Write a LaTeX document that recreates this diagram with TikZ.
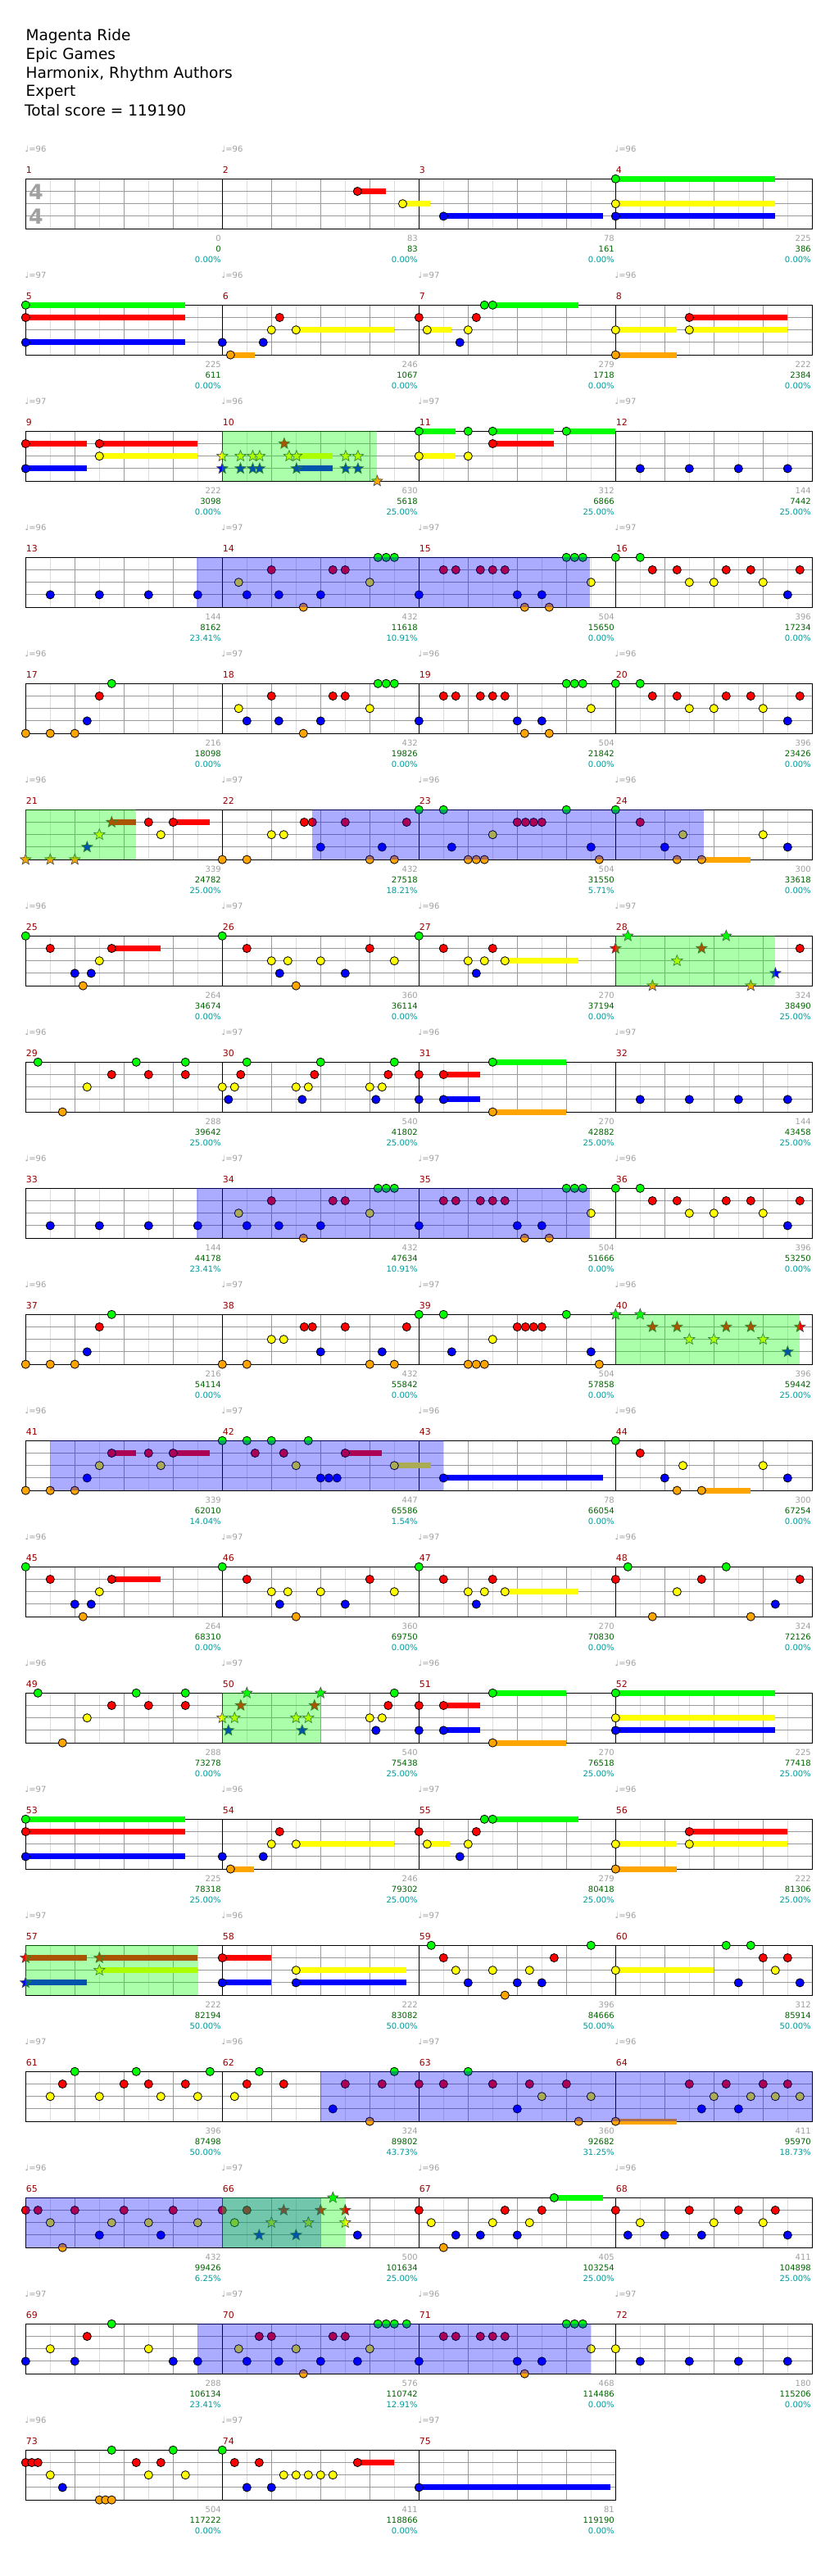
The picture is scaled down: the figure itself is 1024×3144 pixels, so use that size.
\documentclass[tikz,border=0pt]{standalone}
\usepackage{fontspec}
\setmainfont{DejaVu Sans}
\usetikzlibrary{shapes.geometric}
\definecolor{c0}{HTML}{00FF00}
\definecolor{c1}{HTML}{FF0000}
\definecolor{c2}{HTML}{FFFF00}
\definecolor{c3}{HTML}{0000FF}
\definecolor{c4}{HTML}{FFA500}
\definecolor{mnum}{HTML}{990000}
\definecolor{tgray}{HTML}{A0A0A0}
\definecolor{scgreen}{HTML}{006400}
\definecolor{pcyan}{HTML}{009999}
\definecolor{gridlight}{HTML}{DDDDDD}
\definecolor{griddark}{HTML}{9A9A9A}
\tikzset{
  notec/.style={draw=black, line width=0.6pt},
  starn/.style={star, star points=5, star point ratio=2.3, minimum size=10.5pt, inner sep=0pt, draw=black!70, line width=0.5pt},
  smalllbl/.style={inner sep=0pt, font=\fontsize{7.5}{9}\selectfont},
  headlbl/.style={inner sep=0pt, anchor=base west, font=\fontsize{13.9}{16}\selectfont},
}
\newcommand\mpos[1]{%
  \pgfmathtruncatemacro\mr{(#1-1)/4}%
  \pgfmathtruncatemacro\mc{#1-1-4*\mr}%
  \pgfmathsetmacro\mx{31.3+240*\mc}%
  \pgfmathsetmacro\my{218.3+154*\mr}}
\newcommand\nt[3]{\mpos{#1}\pgfmathsetmacro\nx{\mx+60*#2}\pgfmathsetmacro\ny{\my+15.2*#3}%
  \draw[notec, fill=c#3] (\nx,\ny) circle (3.8pt);}
\newcommand\st[3]{\mpos{#1}\pgfmathsetmacro\nx{\mx+60*#2}\pgfmathsetmacro\ny{\my+15.2*#3}%
  \node[starn, fill=c#3] at (\nx,\ny) {};}
\newcommand\sus[4]{\mpos{#1}\pgfmathsetmacro\nx{\mx+60*#2}\pgfmathsetmacro\nxx{\mx+60*#3}\pgfmathsetmacro\ny{\my+15.2*#4}%
  \draw[line width=5.25pt, c#4] (\nx,\ny) -- (\nxx,\ny);}
\newcommand\notes[2]{\foreach \pT/\pL in {#2} {\nt{#1}{\pT}{\pL}}}
\newcommand\stars[2]{\foreach \pT/\pL in {#2} {\st{#1}{\pT}{\pL}}}
\newcommand\susl[2]{\foreach \pA/\pB/\pL in {#2} {\sus{#1}{\pA}{\pB}{\pL}}}
\newcommand\reg[4]{\mpos{#1}\fill[#4, opacity=0.33] (\mx+60*#2,\my) rectangle (\mx+60*#3,\my+61);}
\newcommand\tempo[2]{\mpos{#1}\node[smalllbl, anchor=base west, text=tgray] at (\mx-1,\my-33.3) {♩=#2};}
\newcommand\mlab[4]{\mpos{#1}\pgfmathsetmacro\ex{\mx+240-1.3}%
  \node[smalllbl, anchor=base east, text=tgray] at (\ex,\my+76.4) {#2};
  \node[smalllbl, anchor=base east, text=scgreen] at (\ex,\my+89) {#3};
  \node[smalllbl, anchor=base east, text=pcyan] at (\ex,\my+102.4) {#4};}
% repeated patterns
\newcommand\patA[1]{\notes{#1}{0.333/2,0.5/3,1/1,1.15/3,1.65/4,2/3,2.25/1,2.5/1,3/2,3.167/0,3.333/0,3.5/0}}
\newcommand\patB[1]{\notes{#1}{0/3,0.5/1,0.75/1,1.25/1,1.5/1,1.75/1,2/3,2.15/4,2.5/3,2.65/4,3/0,3.167/0,3.333/0,3.5/2}}
\newcommand\patC[1]{\notes{#1}{0/0,0.5/0,0.75/1,1.25/1,1.5/2,2/2,2.25/1,2.75/1,3/2,3.5/3,3.75/1}}
\newcommand\patD[1]{\notes{#1}{0/4,0.5/4,1/4,1.25/3,1.5/1,1.75/0}}
\newcommand\patE[1]{\notes{#1}{0/4,0.5/4,1/2,1.25/2,1.667/1,1.833/1,2/3,2.5/1,3/4,3.25/3,3.5/4,3.75/1}}
\newcommand\patF[1]{\notes{#1}{0/0,0.5/0,0.667/3,1/4,1.167/4,1.333/4,1.5/2,2/1,2.167/1,2.333/1,2.5/1,3/0,3.5/3,3.667/4}}
\newcommand\patG[1]{\susl{#1}{1.75/2.75/4}\notes{#1}{0/0,0.5/1,1/3,1.25/4,1.37/2,1.75/4,3/2,3.5/3}}
\newcommand\patH[1]{\susl{#1}{1.75/2.75/1}\notes{#1}{0/0,0.5/1,1/3,1.167/4,1.333/3,1.5/2,1.75/1}}
\newcommand\patI[1]{\notes{#1}{0/0,0.5/1,1/2,1.167/3,1.333/2,1.5/4,2/2,2.5/3,3/1,3.5/2}}
\newcommand\patJ[1]{\susl{#1}{1.75/3.25/2}\notes{#1}{0/0,0.5/1,1/2,1.167/3,1.333/2,1.5/1,1.75/2}}
\newcommand\patK[1]{\notes{#1}{0.25/0,0.75/4,1.25/2,1.75/1,2.25/0,2.5/1,3.25/0,3.25/1}}
\newcommand\patL[1]{\susl{#1}{0.5/1.25/1,0.5/1.25/3,1.5/3/0,1.5/3/4}\notes{#1}{0/1,0/3,0.5/1,0.5/3,1.5/0,1.5/4}}
\newcommand\patM[1]{\notes{#1}{0.5/3,1.5/3,2.5/3,3.5/3}}
\begin{document}
\begin{tikzpicture}[x=0.75pt, y=-0.75pt]
\fill[white] (0,0) rectangle (1024,3144);
\useasboundingbox (0,0) rectangle (1024,3144);
% header
\node[headlbl] (h1) at (31.3,49.3) {Magenta Ride};
\node[headlbl] (h2) at (31.3,72.3) {Epic Games};
\node[headlbl] (h3) at (31.3,95.3) {Harmonix, Rhythm Authors};
\node[headlbl] (h4) at (31.3,117.7) {Expert};
\node[headlbl] (h5) at (29.8,141) {Total score = 119190};
% staves
\foreach \m in {1,...,75}{
  \mpos{\m}
  \foreach \k in {30,90,150,210}{\draw[gridlight, line width=0.75pt] (\mx+\k,\my) -- (\mx+\k,\my+61);}
  \foreach \k in {60,120,180}{\draw[griddark, line width=0.75pt] (\mx+\k,\my) -- (\mx+\k,\my+61);}
  \foreach \k in {15.2,30.4,45.6}{\draw[griddark, line width=0.75pt] (\mx,\my+\k) -- (\mx+240,\my+\k);}
  \draw[black, line width=0.8pt] (\mx,\my) rectangle (\mx+240,\my+61);
  \node[smalllbl, anchor=base west, text=mnum, font=\fontsize{8.2}{9}\selectfont] at (\mx+0.3,\my-7.3) {\m};
}
\node[inner sep=0pt, text=tgray, font=\bfseries\fontsize{19}{19}\selectfont] (ts1) at (44,234) {4};
\node[inner sep=0pt, text=tgray, font=\bfseries\fontsize{19}{19}\selectfont] (ts2) at (44,264) {4};
% ---- notes ----
\susl{2}{2.75/3.33/1,3.67/4.23/2}\notes{2}{2.75/1,3.67/2}
\susl{3}{0.5/3.75/3}\notes{3}{0.5/3}
\susl{4}{0/3.24/0,0/3.24/2,0/3.24/3}\notes{4}{0/0,0/2,0/3}
\susl{5}{0/3.25/0,0/3.25/1,0/3.25/3}\notes{5}{0/0,0/1,0/3}
\susl{6}{0.167/0.667/4,1.5/3.5/2}\notes{6}{0/3,0.167/4,0.833/3,1/2,1.167/1,1.5/2}
\susl{7}{0.167/0.667/2,1.5/3.25/0}\notes{7}{0/1,0.167/2,0.833/3,1/2,1.167/1,1.333/0,1.5/0}
\susl{8}{0/1.25/2,0/1.25/4,1.5/3.5/1,1.5/3.5/2}\notes{8}{0/2,0/4,1.5/1,1.5/2}
\susl{9}{0/1.25/1,0/1.25/3,1.5/3.5/1,1.5/3.5/2}\notes{9}{0/1,0/3,1.5/1,1.5/2}
\susl{10}{1.51/2.25/2,1.51/2.25/3}\stars{10}{0/2,0/3,0.37/2,0.37/3,0.62/2,0.62/3,0.76/2,0.76/3,1.26/1,1.36/2,1.51/2,1.51/3,2.51/2,2.51/3,2.76/2,2.76/3,3.15/4}
\susl{11}{0/0.74/0,0/0.74/2,1.5/2.74/0,1.5/2.74/1,3/4/0}\notes{11}{0/0,0/2,1/0,1/2,1.5/0,1.5/1,3/0}
\patM{12}
\patM{13}\patA{14}\patB{15}\patC{16}
\patD{17}\patA{18}\patB{19}\patC{20}
\susl{21}{1.75/2.25/1,3/3.75/1}\stars{21}{0/4,0.5/4,1/4,1.25/3,1.5/2,1.75/1}\notes{21}{2.5/1,2.75/2,3/1}
\patE{22}\patF{23}\patG{24}
\patH{25}\patI{26}\patJ{27}
\stars{28}{0/1,0.25/0,0.75/4,1.25/2,1.75/1,2.25/0,2.75/4,3.25/3}\notes{28}{3.75/1}
\patK{29}
\notes{30}{0/2,0.125/3,0.25/2,0.375/1,0.5/0,1.5/2,1.625/3,1.75/2,1.875/1,2/0,3/2,3.125/3,3.25/2,3.375/1,3.5/0}
\patL{31}\patM{32}
\patM{33}\patA{34}\patB{35}\patC{36}
\patD{37}\patE{38}\patF{39}
\stars{40}{0/0,0.5/0,0.75/1,1.25/1,1.5/2,2/2,2.25/1,2.75/1,3/2,3.5/3,3.75/1}
\susl{41}{1.75/2.25/1,3/3.75/1}\notes{41}{0/4,0.5/4,1/4,1.25/3,1.5/2,1.75/1,2.5/1,2.75/2,3/1}
\susl{42}{2.5/3.25/1,3.5/4.25/2}\notes{42}{0/0,0.5/0,0.667/1,1/0,1.25/1,1.5/2,1.75/0,2/3,2.167/3,2.333/3,2.5/1,3.5/2}
\susl{43}{0.5/3.75/3}\notes{43}{0.5/3}
\patG{44}
\patH{45}\patI{46}\patJ{47}
\notes{48}{0/1,0.25/0,0.75/4,1.25/2,1.75/1,2.25/0,2.75/4,3.25/3,3.75/1}
\patK{49}
\stars{50}{0/2,0.125/3,0.25/2,0.375/1,0.5/0,1.5/2,1.625/3,1.75/2,1.875/1,2/0}\notes{50}{3/2,3.125/3,3.25/2,3.375/1,3.5/0}
\patL{51}
\susl{52}{0/3.25/0,0/3.25/2,0/3.25/3}\notes{52}{0/0,0/2,0/3}
\susl{53}{0/3.25/0,0/3.25/1,0/3.25/3}\notes{53}{0/0,0/1,0/3}
\susl{54}{0.167/0.65/4,1.5/3.5/2}\notes{54}{0/3,0.167/4,0.833/3,1/2,1.167/1,1.5/2}
\susl{55}{0.167/0.63/2,1.5/3.25/0}\notes{55}{0/1,0.167/2,0.833/3,1/2,1.167/1,1.333/0,1.5/0}
\susl{56}{0/1.25/2,0/1.25/4,1.5/3.5/1,1.5/3.5/2}\notes{56}{0/2,0/4,1.5/1,1.5/2}
\susl{57}{0/1.25/1,0/1.25/3,1.5/3.5/1,1.5/3.5/2}\stars{57}{0/1,0/3,1.5/1,1.5/2}
\susl{58}{0/1/1,0/1/3,1.5/3.75/2,1.5/3.75/3}\notes{58}{0/1,0/3,1.5/2,1.5/3}
\notes{59}{0.25/0,0.5/1,0.75/2,1/3,1.5/2,1.75/4,2/3,2.25/2,2.5/3,2.75/1,3.5/0}
\susl{60}{0/2/2}\notes{60}{0/2,2.25/0,2.5/3,2.75/0,3/1,3.25/2,3.5/1,3.75/3}
% rows 16-19
\notes{61}{0.5/2,0.75/1,1/0,1.5/2,2/1,2.25/0,2.5/1,2.75/2,3.25/1,3.5/2,3.75/0}
\notes{62}{0.25/2,0.5/1,0.75/0,1.25/1,2.25/3,2.5/1,3/4,3.25/1,3.5/0}
\notes{63}{0/1,0.5/1,1/0,1.5/1,2/3,2.25/1,2.5/2,3/1,3.25/4,3.5/2}
\susl{64}{0/1.25/4}\notes{64}{0/4,1.5/1,1.75/3,2/2,2.25/1,2.5/3,2.75/2,3/1,3.25/2,3.5/1,3.75/2}
\notes{65}{0/1,0.25/1,0.5/2,0.75/4,1/1,1.5/3,1.75/2,2/1,2.5/2,2.75/3,3/1,3.5/2}
\notes{66}{0/1,0.25/2,0.5/1,2.75/3}
\stars{66}{0.75/3,1/2,1.25/1,1.5/3,1.75/2,2/1,2.25/0,2.5/1,2.5/2}
\susl{67}{2.75/3.75/0}\notes{67}{0/1,0.25/2,0.5/4,0.75/3,1.25/3,1.5/2,1.75/1,2/3,2.25/2,2.5/1,2.75/0}
\notes{68}{0/1,0.25/3,0.5/2,1/3,1.5/1,1.75/3,2/2,2.5/1,3/2,3.25/1,3.5/3}
\notes{69}{0/3,0.5/2,1/3,1.25/1,1.75/0,2.5/2,3/3,3.5/3}
\patA{70}\notes{70}{0.75/1,1.5/2,2.75/3,3.75/0}
\notes{71}{0/3,0.5/1,0.75/1,1.25/1,1.5/1,1.75/1,2/3,2.15/4,2.5/3,3/0,3.167/0,3.333/0,3.5/2}
\notes{72}{0/2}\patM{72}
\notes{73}{0/1,0.125/1,0.25/1,0.5/2,0.75/3,1.5/4,1.625/4,1.75/4,1.75/0,2.25/1,2.5/2,2.75/1,3/0,3.25/2}
\susl{74}{2.75/3.5/1}\notes{74}{0/0,0.25/1,0.5/3,0.75/1,1/3,1.25/2,1.5/2,1.75/2,2/2,2.25/2,2.75/1}
\susl{75}{0/3.9/3}\notes{75}{0/3}
% ---- overlays ----
\reg{10}{0}{3.15}{c0}
\reg{13}{3.48}{11.48}{c3}
\reg{21}{0}{2.25}{c0}
\reg{22}{1.82}{9.8}{c3}
\reg{28}{0}{3.25}{c0}
\reg{33}{3.48}{11.48}{c3}
\reg{40}{0}{3.74}{c0}
\reg{41}{0.5}{8.5}{c3}
\reg{50}{0}{2}{c0}
\reg{57}{0}{3.5}{c0}
\reg{62}{2}{12}{c3}
\reg{65}{0}{6}{c3}
\reg{66}{0}{2.5}{c0}
\reg{69}{3.5}{11.5}{c3}
% ---- tempo marks ----
\foreach \m/\b in {1/96,2/96,4/96,5/97,6/96,7/97,8/96,9/97,10/96,11/97,12/97,
 13/96,14/97,15/97,16/97,17/96,18/97,19/96,20/96,21/96,22/97,23/96,24/96,
 25/96,26/97,27/96,28/97,29/96,30/97,31/96,32/97,33/96,34/97,35/97,36/96,
 37/96,38/97,39/97,40/96,41/96,42/97,43/96,44/96,45/96,46/97,47/97,48/96,
 49/96,50/97,51/96,52/96,53/97,54/96,55/97,56/96,57/97,58/96,59/97,60/96,
 61/97,62/96,63/97,64/96,65/96,66/97,67/96,68/96,69/97,70/97,71/96,72/97,
 73/96,74/97,75/97}{\tempo{\m}{\b}}
% ---- measure labels ----
\mlab{1}{0}{0}{0.00\%}\mlab{2}{83}{83}{0.00\%}\mlab{3}{78}{161}{0.00\%}\mlab{4}{225}{386}{0.00\%}
\mlab{5}{225}{611}{0.00\%}\mlab{6}{246}{1067}{0.00\%}\mlab{7}{279}{1718}{0.00\%}\mlab{8}{222}{2384}{0.00\%}
\mlab{9}{222}{3098}{0.00\%}\mlab{10}{630}{5618}{25.00\%}\mlab{11}{312}{6866}{25.00\%}\mlab{12}{144}{7442}{25.00\%}
\mlab{13}{144}{8162}{23.41\%}\mlab{14}{432}{11618}{10.91\%}\mlab{15}{504}{15650}{0.00\%}\mlab{16}{396}{17234}{0.00\%}
\mlab{17}{216}{18098}{0.00\%}\mlab{18}{432}{19826}{0.00\%}\mlab{19}{504}{21842}{0.00\%}\mlab{20}{396}{23426}{0.00\%}
\mlab{21}{339}{24782}{25.00\%}\mlab{22}{432}{27518}{18.21\%}\mlab{23}{504}{31550}{5.71\%}\mlab{24}{300}{33618}{0.00\%}
\mlab{25}{264}{34674}{0.00\%}\mlab{26}{360}{36114}{0.00\%}\mlab{27}{270}{37194}{0.00\%}\mlab{28}{324}{38490}{25.00\%}
\mlab{29}{288}{39642}{25.00\%}\mlab{30}{540}{41802}{25.00\%}\mlab{31}{270}{42882}{25.00\%}\mlab{32}{144}{43458}{25.00\%}
\mlab{33}{144}{44178}{23.41\%}\mlab{34}{432}{47634}{10.91\%}\mlab{35}{504}{51666}{0.00\%}\mlab{36}{396}{53250}{0.00\%}
\mlab{37}{216}{54114}{0.00\%}\mlab{38}{432}{55842}{0.00\%}\mlab{39}{504}{57858}{0.00\%}\mlab{40}{396}{59442}{25.00\%}
\mlab{41}{339}{62010}{14.04\%}\mlab{42}{447}{65586}{1.54\%}\mlab{43}{78}{66054}{0.00\%}\mlab{44}{300}{67254}{0.00\%}
\mlab{45}{264}{68310}{0.00\%}\mlab{46}{360}{69750}{0.00\%}\mlab{47}{270}{70830}{0.00\%}\mlab{48}{324}{72126}{0.00\%}
\mlab{49}{288}{73278}{0.00\%}\mlab{50}{540}{75438}{25.00\%}\mlab{51}{270}{76518}{25.00\%}\mlab{52}{225}{77418}{25.00\%}
\mlab{53}{225}{78318}{25.00\%}\mlab{54}{246}{79302}{25.00\%}\mlab{55}{279}{80418}{25.00\%}\mlab{56}{222}{81306}{25.00\%}
\mlab{57}{222}{82194}{50.00\%}\mlab{58}{222}{83082}{50.00\%}\mlab{59}{396}{84666}{50.00\%}\mlab{60}{312}{85914}{50.00\%}
\mlab{61}{396}{87498}{50.00\%}\mlab{62}{324}{89802}{43.73\%}\mlab{63}{360}{92682}{31.25\%}\mlab{64}{411}{95970}{18.73\%}
\mlab{65}{432}{99426}{6.25\%}\mlab{66}{500}{101634}{25.00\%}\mlab{67}{405}{103254}{25.00\%}\mlab{68}{411}{104898}{25.00\%}
\mlab{69}{288}{106134}{23.41\%}\mlab{70}{576}{110742}{12.91\%}\mlab{71}{468}{114486}{0.00\%}\mlab{72}{180}{115206}{0.00\%}
\mlab{73}{504}{117222}{0.00\%}\mlab{74}{411}{118866}{0.00\%}\mlab{75}{81}{119190}{0.00\%}
\end{tikzpicture}
\end{document}
